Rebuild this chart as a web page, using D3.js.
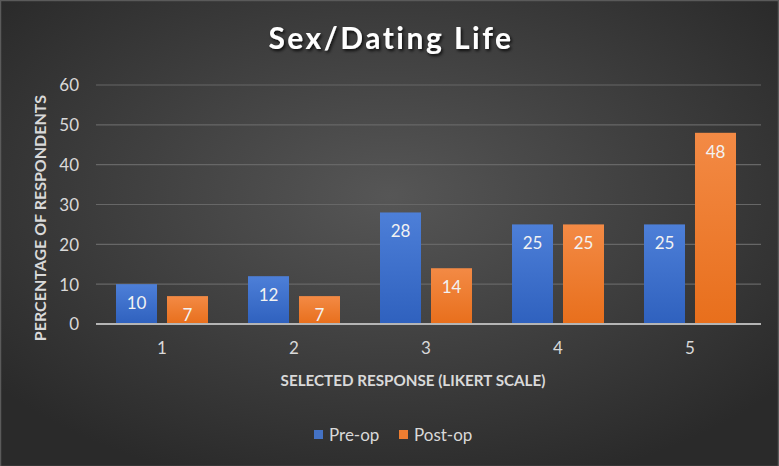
<!DOCTYPE html>
<html><head><meta charset="utf-8">
<script src="https://cdn.jsdelivr.net/npm/d3@7"></script>
<style>
html,body{margin:0;padding:0;background:#333;}
svg{display:block;}
</style></head>
<body>
<svg id="chart" width="779" height="466"></svg>
<script>
const categories = ["1","2","3","4","5"];
const seriesNames = ["Pre-op","Post-op"];
const preOp = [10,12,28,25,25];
const postOp = [7,7,14,25,48];
const yTicks = [0,10,20,30,40,50,60];
const colors = ["#4472c4","#ed7d31"];

const W=779,H=466;
const svg=d3.select("#chart");
const defs=svg.append("defs");

const bg=defs.append("radialGradient").attr("id","bg").attr("cx","50%").attr("cy","42%").attr("r","65%");
bg.append("stop").attr("offset","0%").attr("stop-color","#565656");
bg.append("stop").attr("offset","100%").attr("stop-color","#2a2a2a");

const gB=defs.append("linearGradient").attr("id","gBlue").attr("x1",0).attr("y1",0).attr("x2",0).attr("y2",1);
gB.append("stop").attr("offset","0%").attr("stop-color","#4d7fd8");
gB.append("stop").attr("offset","100%").attr("stop-color","#2f61be");
const gO=defs.append("linearGradient").attr("id","gOrange").attr("x1",0).attr("y1",0).attr("x2",0).attr("y2",1);
gO.append("stop").attr("offset","0%").attr("stop-color","#f38a45");
gO.append("stop").attr("offset","100%").attr("stop-color","#e86f1c");

const sh=defs.append("filter").attr("id","shadow").attr("x","-10%").attr("y","-20%").attr("width","130%").attr("height","150%");
sh.append("feDropShadow").attr("dx",1.5).attr("dy",2).attr("stdDeviation",1.5).attr("flood-color","#000").attr("flood-opacity",0.8);

svg.append("rect").attr("width",W).attr("height",H).attr("fill","url(#bg)");
svg.append("rect").attr("x",0.5).attr("y",0.5).attr("width",W-1).attr("height",H).attr("fill","none").attr("stroke","#5a5a5a").attr("stroke-width",1.5);

const x0=96, x1=756, gridRight=761;
const y=d3.scaleLinear().domain([0,60]).range([324,85]);
const x=d3.scaleBand().domain(categories).range([x0,x1]).paddingInner(0).paddingOuter(0);
const barW=41, gap=10;

// gridlines
svg.append("g").selectAll("line").data(yTicks.filter(d=>d>0)).join("line")
 .attr("x1",x0).attr("x2",gridRight).attr("y1",d=>y(d)).attr("y2",d=>y(d))
 .attr("stroke","#676767").attr("stroke-width",1.2);

// y axis using d3 axis
const yAxis=d3.axisLeft(y).tickValues(yTicks).tickSize(0).tickPadding(0);
const ya=svg.append("g").attr("transform","translate(79,0)").call(yAxis);
ya.select(".domain").remove();
ya.selectAll("text").attr("fill","#d9d9d9").attr("font-family","Lato, 'Open Sans', sans-serif").attr("font-size",17).attr("dy","0.35em");

// bars
const data=[preOp,postOp];
const fills=["url(#gBlue)","url(#gOrange)"];
const groupW=barW*2+gap;
data.forEach((vals,si)=>{
  const g=svg.append("g");
  g.selectAll("rect").data(vals).join("rect")
   .attr("x",(d,i)=>x(categories[i])+(x.bandwidth()-groupW)/2+si*(barW+gap))
   .attr("y",d=>y(d)).attr("width",barW).attr("height",d=>y(0)-y(d))
   .attr("fill",fills[si]);
  g.selectAll("text").data(vals).join("text")
   .attr("x",(d,i)=>x(categories[i])+(x.bandwidth()-groupW)/2+si*(barW+gap)+barW/2)
   .attr("y",d=>y(d)+25)
   .attr("text-anchor","middle").attr("fill","#f2f2f2")
   .attr("font-family","Lato, 'Open Sans', sans-serif").attr("font-size",17)
   .text(d=>d);
});

// baseline
svg.append("line").attr("x1",x0).attr("x2",gridRight).attr("y1",y(0)).attr("y2",y(0)).attr("stroke","#b5b5b5").attr("stroke-width",2);

// x axis
const xAxis=d3.axisBottom(x).tickSize(0).tickPadding(0);
const xa=svg.append("g").attr("transform",`translate(0,${y(0)})`).call(xAxis);
xa.select(".domain").remove();
xa.selectAll("text").attr("fill","#d9d9d9").attr("font-family","Lato, 'Open Sans', sans-serif").attr("font-size",17).attr("dy","1.75em");

// title
svg.append("text").attr("x",391).attr("y",49).attr("text-anchor","middle")
 .attr("fill","#ffffff").attr("font-family","Lato, sans-serif").attr("font-weight","bold").attr("font-size",30)
 .attr("letter-spacing",2.5)
 .attr("filter","url(#shadow)").text("Sex/Dating Life");

// axis titles
svg.append("text").attr("transform","translate(46,218) rotate(-90)").attr("text-anchor","middle")
 .attr("fill","#d9d9d9").attr("font-family","Lato, sans-serif").attr("font-weight","bold").attr("font-size",16)
 .text("PERCENTAGE OF RESPONDENTS");
svg.append("text").attr("x",413).attr("y",386).attr("text-anchor","middle")
 .attr("fill","#d9d9d9").attr("font-family","Lato, sans-serif").attr("font-weight","bold").attr("font-size",15.2)
 .text("SELECTED RESPONSE (LIKERT SCALE)");

// legend
const leg=svg.append("g");
const legX=[314,399];
seriesNames.forEach((n,i)=>{
  leg.append("rect").attr("x",legX[i]).attr("y",430).attr("width",9).attr("height",9).attr("fill",colors[i]);
  leg.append("text").attr("x",legX[i]+15).attr("y",441).attr("fill","#d9d9d9")
   .attr("font-family","Lato, 'Open Sans', sans-serif").attr("font-size",17).text(n);
});
</script>
</body></html>
